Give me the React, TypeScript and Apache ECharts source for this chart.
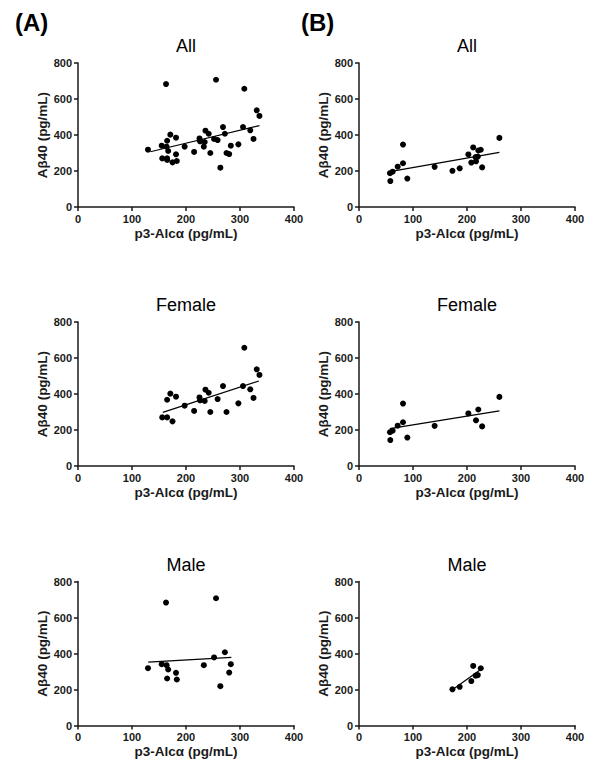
import React, { useEffect, useRef } from "react";
import * as echarts from "echarts";

const FONT = "'Liberation Sans', Arial, Helvetica, sans-serif";

// Panel titles and labels
const panelTitles = ["All", "Female", "Male"];
const columnLabels = ["(A)", "(B)"];
const xAxisName = "p3-Alcα (pg/mL)";
const yAxisName = "Aβ40 (pg/mL)";
const xTicks = [0, 100, 200, 300, 400];
const yTicks = [0, 200, 400, 600, 800];

// Column A – female
const aFemaleX = [156, 165, 175, 165, 171, 181.5, 197.5, 215, 225, 226, 234.6, 236, 242, 245, 258.6, 268.5, 275, 297, 305.6, 308, 319, 325, 331, 336];
const aFemaleY = [270, 270, 248, 368, 402, 385, 335, 306, 381, 365, 361, 424, 407, 300, 372, 444, 300, 348, 444, 657, 426, 378, 537, 506];
// Column A – male
const aMaleX = [129.6, 155, 163, 164, 167, 165, 181.5, 183, 233, 252, 255.6, 272, 263.6, 283, 280];
const aMaleY = [318.5, 340.7, 683, 335, 311, 261, 292.6, 255.6, 335, 378, 707, 407, 218.5, 340.7, 294];
// Column B – female
const bFemaleX = [57.4, 58, 62.3, 71.6, 81.5, 81.5, 89.5, 140, 202.5, 216.7, 221, 228, 260];
const bFemaleY = [188, 144, 196, 224, 347, 243, 158, 223, 292, 254, 314, 220, 384];
// Column B – male
const bMaleX = [173, 186.5, 208, 211.5, 216, 220, 225.5];
const bMaleY = [201, 215, 247, 331, 277, 280, 318];

// Fitted lines (endpoints): [x0, x1], [y0, y1]
const fitAAllX = [134, 336];
const fitAAllY = [307, 452];
const fitAFemaleX = [157, 335];
const fitAFemaleY = [298, 472];
const fitAMaleX = [130, 284];
const fitAMaleY = [352, 378];
const fitBAllX = [57, 260];
const fitBAllY = [197, 303];
const fitBFemaleX = [57, 260];
const fitBFemaleY = [208, 306];
const fitBMaleX = [173, 226];
const fitBMaleY = [198, 312];

const zip = (xs: number[], ys: number[]) => xs.map((x, i) => [x, ys[i]]);

export default function App() {
  const ref = useRef<HTMLDivElement>(null);
  useEffect(() => {
    if (!ref.current) return;
    const chart = echarts.init(ref.current, undefined, { renderer: "svg" });

    const colLeft = [78, 359];
    const rowTop = [63, 322, 581.5];
    const W = 216;
    const H = 144;
    const titleTop = [37, 296, 555.5];

    const panels = [
      { col: 0, row: 0, pts: zip(aFemaleX.concat(aMaleX), aFemaleY.concat(aMaleY)), fit: zip(fitAAllX, fitAAllY) },
      { col: 1, row: 0, pts: zip(bFemaleX.concat(bMaleX), bFemaleY.concat(bMaleY)), fit: zip(fitBAllX, fitBAllY) },
      { col: 0, row: 1, pts: zip(aFemaleX, aFemaleY), fit: zip(fitAFemaleX, fitAFemaleY) },
      { col: 1, row: 1, pts: zip(bFemaleX, bFemaleY), fit: zip(fitBFemaleX, fitBFemaleY) },
      { col: 0, row: 2, pts: zip(aMaleX, aMaleY), fit: zip(fitAMaleX, fitAMaleY) },
      { col: 1, row: 2, pts: zip(bMaleX, bMaleY), fit: zip(fitBMaleX, fitBMaleY) },
    ];

    const axisColor = "#1a1a1a";
    const grids: any[] = [];
    const xAxes: any[] = [];
    const yAxes: any[] = [];
    const series: any[] = [];
    const graphics: any[] = [];

    panels.forEach((p, i) => {
      grids.push({ left: colLeft[p.col], top: rowTop[p.row], width: W, height: H, containLabel: false });
      xAxes.push({
        type: "value",
        gridIndex: i,
        min: xTicks[0],
        max: xTicks[xTicks.length - 1],
        interval: xTicks[1] - xTicks[0],
        axisLine: { show: true, onZero: false, lineStyle: { color: axisColor, width: 1.5 } },
        axisTick: { show: true, length: 4, lineStyle: { color: axisColor, width: 1.5 } },
        axisLabel: { fontFamily: FONT, fontWeight: "bold", fontSize: 11, color: axisColor, margin: 6 },
        splitLine: { show: false },
        name: xAxisName,
        nameLocation: "middle",
        nameGap: 19,
        nameTextStyle: { fontFamily: FONT, fontWeight: "bold", fontSize: 13.5, color: axisColor },
      });
      yAxes.push({
        type: "value",
        gridIndex: i,
        min: yTicks[0],
        max: yTicks[yTicks.length - 1],
        interval: yTicks[1] - yTicks[0],
        axisLine: { show: true, onZero: false, lineStyle: { color: axisColor, width: 1.5 } },
        axisTick: { show: true, length: 4, lineStyle: { color: axisColor, width: 1.5 } },
        axisLabel: { fontFamily: FONT, fontWeight: "bold", fontSize: 11, color: axisColor, margin: 6 },
        splitLine: { show: false },
        name: yAxisName,
        nameLocation: "middle",
        nameGap: 29,
        nameTextStyle: { fontFamily: FONT, fontWeight: "bold", fontSize: 13.5, color: axisColor },
      });
      series.push({
        type: "scatter",
        xAxisIndex: i,
        yAxisIndex: i,
        data: p.pts,
        symbol: "circle",
        symbolSize: 6,
        itemStyle: { color: "#000", opacity: 1 },
        z: 3,
      });
      series.push({
        type: "line",
        xAxisIndex: i,
        yAxisIndex: i,
        data: p.fit,
        symbol: "none",
        lineStyle: { color: "#000", width: 1.2 },
        z: 2,
      });
      graphics.push({
        type: "text",
        x: colLeft[p.col] + W / 2,
        y: titleTop[p.row],
        style: {
          text: panelTitles[p.row],
          fill: "#000",
          fontSize: 18,
          fontFamily: FONT,
          fontWeight: "normal",
          align: "center",
          verticalAlign: "top",
          textAlign: "center",
          textVerticalAlign: "top",
        },
      });
    });

    [15, 301].forEach((x, c) => {
      graphics.push({
        type: "text",
        x,
        y: 10,
        style: {
          text: columnLabels[c],
          fill: "#000",
          fontSize: 24,
          fontFamily: FONT,
          fontWeight: "bold",
          align: "left",
          verticalAlign: "top",
          textAlign: "left",
          textVerticalAlign: "top",
        },
      });
    });

    chart.setOption({
      animation: false,
      backgroundColor: "#fff",
      grid: grids,
      xAxis: xAxes,
      yAxis: yAxes,
      series,
      graphic: graphics,
    });
    return () => chart.dispose();
  }, []);

  return <div ref={ref} style={{ position: "absolute", left: 0, top: 0, width: 600, height: 772 }} />;
}
